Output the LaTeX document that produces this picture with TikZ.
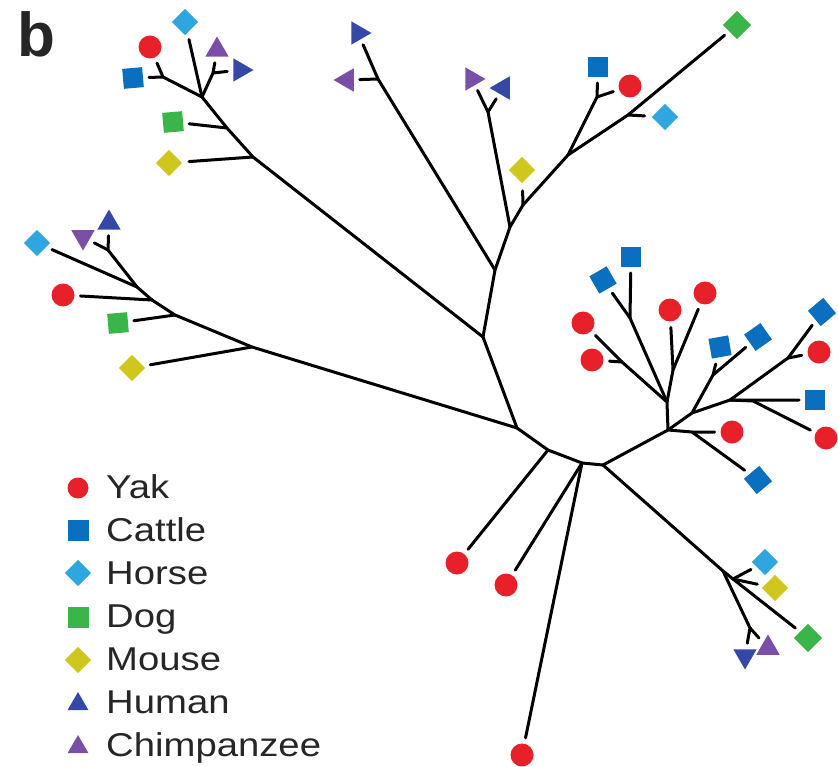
\documentclass[tikz,border=0pt]{standalone}
\usepackage{fontspec}
\setmainfont{Liberation Sans}
\newfontfamily\keyfont[FakeStretch=1.16]{Liberation Sans}
\usetikzlibrary{shapes.geometric}

\definecolor{yakred}{HTML}{E8202A}
\definecolor{cattleblue}{HTML}{0B6FBF}
\definecolor{horseblue}{HTML}{2FA6E0}
\definecolor{doggreen}{HTML}{3AB54A}
\definecolor{mouseyellow}{HTML}{CFC71D}
\definecolor{humanblue}{HTML}{3548A8}
\definecolor{chimppurple}{HTML}{7A4FA8}

\tikzset{
  leaf/.style={inner sep=0pt, outer sep=6pt},
  yak/.style={leaf, circle, fill=yakred, minimum size=23pt},
  cattle/.style={leaf, rectangle, fill=cattleblue, minimum size=20pt},
  horse/.style={leaf, diamond, fill=horseblue, minimum size=31pt},
  dog/.style={leaf, rectangle, fill=doggreen, minimum size=20pt},
  mouse/.style={leaf, diamond, fill=mouseyellow, minimum size=31pt},
  tri/.style={leaf, regular polygon, regular polygon sides=3, minimum size=27pt},
  human/.style={tri, fill=humanblue},
  chimp/.style={tri, fill=chimppurple},
  branch/.style={line width=3pt, line cap=round},
  keytext/.style={anchor=base west, inner sep=0pt, font=\keyfont\fontsize{33}{33}\selectfont, text=black!85}
}

\begin{document}
\begin{tikzpicture}[x=1pt, y=-1pt]
\useasboundingbox (0,0) rectangle (838,767);

\node[anchor=base west, inner sep=0pt, font=\bfseries\fontsize{62}{62}\selectfont, text=black!85] (panel) at (17,57) {b};

% inner points of the tree
\coordinate (A) at (517,428);
\coordinate (B) at (483,337);
\coordinate (C) at (495,270);
\coordinate (D) at (510,227);
\coordinate (E) at (523,205);
\coordinate (F) at (568,155);
\coordinate (F1) at (597,97);
\coordinate (F2) at (628,115);
\coordinate (T1) at (253,157);
\coordinate (T2) at (227,128);
\coordinate (T3) at (202,97);
\coordinate (T4) at (163,77);
\coordinate (T5) at (213,73);
\coordinate (U1) at (378,79);
\coordinate (V) at (488,112);
\coordinate (W1) at (252,347);
\coordinate (W2) at (175,315);
\coordinate (W3) at (152,300);
\coordinate (W4) at (137,287);
\coordinate (W5) at (108,250);
\coordinate (G0) at (548,450);
\coordinate (G) at (582,463);
\coordinate (H) at (603,465);
\coordinate (Q) at (723,571);
\coordinate (Qa) at (733,579);
\coordinate (Qt) at (750,628);
\coordinate (I) at (668,430);
\coordinate (J) at (692,432);
\coordinate (K) at (667,402);
\coordinate (Ks) at (622,362);
\coordinate (P) at (630,318);
\coordinate (K2) at (673,370);
\coordinate (L) at (692,413);
\coordinate (M) at (713,375);
\coordinate (N) at (730,400);
\coordinate (N2) at (753,401);
\coordinate (O) at (788,358);

% leaves
\node[mouse] (tlMouse) at (169,163) {};
\node[dog, rotate=5] (tlDog) at (173,122) {};
\node[cattle, rotate=5] (tlCattle) at (133,78) {};
\node[yak] (tlYak) at (150,47) {};
\node[horse] (tlHorse) at (185,22) {};
\node[chimp] (tlChimp) at (217,50) {};
\node[human, rotate=-90] (tlHuman) at (240,70) {};

\node[human, rotate=-90] (tmHuman) at (358,33) {};
\node[chimp, rotate=90] (tmChimp) at (347,80) {};
\node[chimp, rotate=-90] (tmChimpB) at (472,79) {};
\node[human, rotate=90] (tmHumanB) at (503,88) {};
\node[mouse] (tmMouse) at (522,170) {};

\node[cattle] (trCattle) at (598,67) {};
\node[yak] (trYak) at (630,86) {};
\node[horse] (trHorse) at (665,117) {};
\node[dog, rotate=45] (trDog) at (737,25) {};

\node[horse] (lHorse) at (37,243) {};
\node[chimp, rotate=180] (lChimp) at (83,237) {};
\node[human] (lHuman) at (109,223) {};
\node[yak] (lYak) at (63,295) {};
\node[dog, rotate=5] (lDog) at (118,323) {};
\node[mouse] (lMouse) at (132,368) {};

\node[yak] (bYakA) at (457,563) {};
\node[yak] (bYakB) at (506,585) {};
\node[yak] (bYakC) at (522,755) {};

\node[horse] (brHorse) at (765,562) {};
\node[mouse] (brMouse) at (775,588) {};
\node[dog, rotate=45] (brDog) at (808,638) {};
\node[human, rotate=180] (brHuman) at (745,656) {};
\node[chimp] (brChimp) at (768,648) {};

\node[yak] (rYakA) at (583,323) {};
\node[yak] (rYakB) at (592,360) {};
\node[cattle, rotate=30] (rCattleA) at (603,280) {};
\node[cattle] (rCattleB) at (631,257) {};
\node[yak] (rYakC) at (670,310) {};
\node[yak] (rYakD) at (705,293) {};
\node[cattle, rotate=10] (rCattleC) at (720,347) {};
\node[cattle, rotate=35] (rCattleD) at (758,337) {};
\node[cattle, rotate=40] (rCattleE) at (822,312) {};
\node[yak] (rYakE) at (819,352) {};
\node[cattle] (rCattleF) at (815,400) {};
\node[yak] (rYakF) at (826,438) {};
\node[yak] (rYakG) at (732,432) {};
\node[cattle, rotate=40] (rCattleG) at (758,480) {};

% branches
\draw[branch] (A) -- (B) -- (C) -- (D) -- (E) -- (F);
\draw[branch] (E) -- (tmMouse);
\draw[branch] (F) -- (F1) -- (trCattle);
\draw[branch] (F1) -- (trYak);
\draw[branch] (F) -- (F2) -- (trDog);
\draw[branch] (F2) -- (trHorse);
\draw[branch] (C) -- (U1) -- (tmHuman);
\draw[branch] (U1) -- (tmChimp);
\draw[branch] (D) -- (V) -- (tmChimpB);
\draw[branch] (V) -- (tmHumanB);
\draw[branch] (B) -- (T1) -- (T2) -- (T3) -- (T4) -- (tlYak);
\draw[branch] (T1) -- (tlMouse);
\draw[branch] (T2) -- (tlDog);
\draw[branch] (T4) -- (tlCattle);
\draw[branch] (T3) -- (tlHorse);
\draw[branch] (T3) -- (T5) -- (tlChimp);
\draw[branch] (T5) -- (tlHuman);
\draw[branch] (A) -- (W1) -- (W2) -- (W3) -- (W4) -- (lHorse);
\draw[branch] (W1) -- (lMouse);
\draw[branch] (W2) -- (lDog);
\draw[branch] (W3) -- (lYak);
\draw[branch] (W4) -- (W5) -- (lHuman);
\draw[branch] (W5) -- (lChimp);
\draw[branch] (A) -- (G0) -- (G) -- (H);
\draw[branch] (G0) -- (bYakA);
\draw[branch] (G) -- (bYakB);
\draw[branch] (G) -- (bYakC);
\draw[branch] (H) -- (Q) -- (Qa) -- (brDog);
\draw[branch] (Qa) -- (brHorse);
\draw[branch] (Qa) -- (brMouse);
\draw[branch] (Q) -- (Qt) -- (brHuman);
\draw[branch] (Qt) -- (brChimp);
\draw[branch] (H) -- (I) -- (J) -- (rYakG);
\draw[branch] (J) -- (rCattleG);
\draw[branch] (I) -- (K) -- (Ks) -- (rYakA);
\draw[branch] (Ks) -- (rYakB);
\draw[branch] (K) -- (P) -- (rCattleA);
\draw[branch] (P) -- (rCattleB);
\draw[branch] (K) -- (K2) -- (rYakC);
\draw[branch] (K2) -- (rYakD);
\draw[branch] (I) -- (L) -- (M) -- (rCattleC);
\draw[branch] (M) -- (rCattleD);
\draw[branch] (L) -- (N) -- (rCattleF);
\draw[branch] (N) -- (N2) -- (rYakF);
\draw[branch] (N) -- (O) -- (rCattleE);
\draw[branch] (O) -- (rYakE);

% key
\node[yak, minimum size=21pt] (keyYak) at (78,488) {};
\node[cattle, minimum size=21pt] (keyCattle) at (78,530) {};
\node[horse] (keyHorse) at (78,573) {};
\node[dog, minimum size=21pt] (keyDog) at (78,617) {};
\node[mouse] (keyMouse) at (78,660) {};
\node[human, minimum size=24pt] (keyHuman) at (78,704) {};
\node[chimp, minimum size=24pt] (keyChimp) at (78,747) {};
\node[keytext] (txtYak) at (106,498) {Yak};
\node[keytext] (txtCattle) at (106,541) {Cattle};
\node[keytext] (txtHorse) at (106,584) {Horse};
\node[keytext] (txtDog) at (106,627) {Dog};
\node[keytext] (txtMouse) at (106,670) {Mouse};
\node[keytext] (txtHuman) at (106,713) {Human};
\node[keytext] (txtChimp) at (106,756) {Chimpanzee};
\end{tikzpicture}
\end{document}
